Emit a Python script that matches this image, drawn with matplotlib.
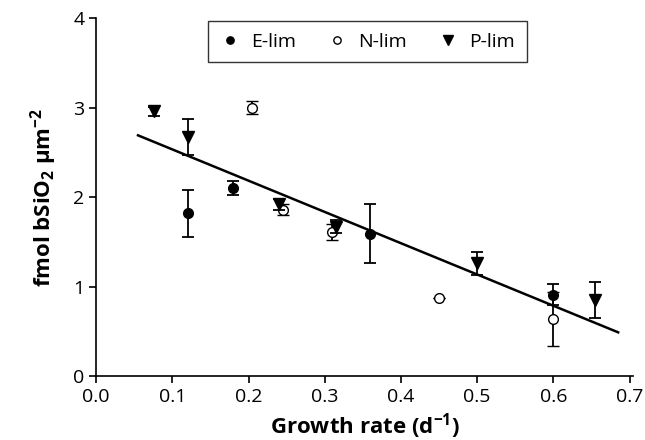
import matplotlib
matplotlib.use("Agg")
import matplotlib.pyplot as plt

# E-limited
e_x = [0.12, 0.18, 0.36, 0.60]
e_y = [1.82, 2.10, 1.59, 0.91]
e_err = [0.26, 0.08, 0.33, 0.12]

# N-limited
n_x = [0.205, 0.245, 0.31, 0.45, 0.60]
n_y = [3.00, 1.86, 1.61, 0.87, 0.64]
n_err = [0.07, 0.06, 0.09, 0.0, 0.30]

# P-limited
p_x = [0.076, 0.12, 0.24, 0.315, 0.50, 0.655]
p_y = [2.96, 2.67, 1.92, 1.67, 1.26, 0.85]
p_err = [0.05, 0.20, 0.06, 0.07, 0.13, 0.20]

# regression line end points
fit_x = [0.055, 0.685]
fit_y = [2.69, 0.49]

plt.rcParams['font.family'] = ['Open Sans', 'DejaVu Sans']
plt.rcParams['mathtext.fontset'] = 'custom'
plt.rcParams['mathtext.rm'] = 'Open Sans'
plt.rcParams['mathtext.bf'] = 'Open Sans:bold'

fig = plt.figure(figsize=(6.45, 4.4), dpi=100)
ax = fig.add_axes([0.149, 0.145, 0.833, 0.814])

ax.plot(fit_x, fit_y, color='black', lw=1.8, zorder=1)

ekw = dict(ecolor='black', elinewidth=1.3, capsize=4.5, capthick=1.3, linestyle='none')
ax.errorbar(n_x, n_y, yerr=n_err, marker='o', ms=7, mfc='white', mec='black', mew=1.0,
            label='N-lim', zorder=3, **ekw)
ax.errorbar(p_x, p_y, yerr=p_err, marker='v', ms=9, mfc='black', mec='black',
            label='P-lim', zorder=4, **ekw)
ax.errorbar(e_x, e_y, yerr=e_err, marker='o', ms=7, mfc='black', mec='black',
            label='E-lim', zorder=5, **ekw)

ax.set_xlim(0, 0.705)
ax.set_ylim(0, 4)
ax.set_xticks([0.0, 0.1, 0.2, 0.3, 0.4, 0.5, 0.6, 0.7])
ax.set_xticklabels(['0.0', '0.1', '0.2', '0.3', '0.4', '0.5', '0.6', '0.7'])
ax.set_yticks([0, 1, 2, 3, 4])
ax.spines['top'].set_visible(False)
ax.spines['right'].set_visible(False)
ax.spines['left'].set_linewidth(1.2)
ax.spines['bottom'].set_linewidth(1.2)
ax.tick_params(direction='out', length=5, width=1.2, labelsize=14)

ax.set_xlabel(r'Growth rate (d$^\mathbf{-1}$)', fontsize=16, fontweight='bold', labelpad=4)
ax.set_ylabel(r'fmol bSiO$_\mathbf{2}$ µm$^\mathbf{-2}$', fontsize=16, fontweight='bold', labelpad=10)

handles, labels = ax.get_legend_handles_labels()
order = [2, 0, 1]
leg = ax.legend([handles[i][0] for i in order], [labels[i] for i in order],
                ncol=3, loc='upper center', bbox_to_anchor=(0.505, 1.0), borderaxespad=0.15,
                fontsize=14, frameon=True, fancybox=False, edgecolor='black',
                handlelength=1.0, columnspacing=1.6, handletextpad=0.6, borderpad=0.6,
                markerscale=0.75)
leg.get_frame().set_linewidth(1.0)

fig.savefig('out.png', dpi=100)
